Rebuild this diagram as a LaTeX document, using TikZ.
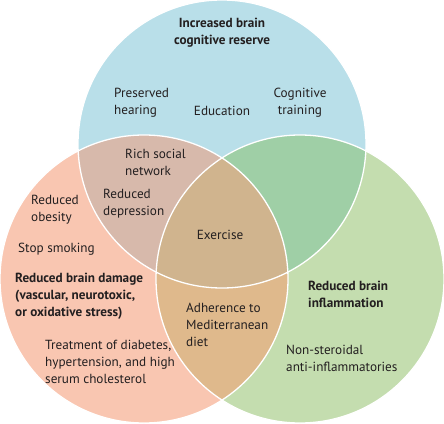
\documentclass[tikz,border=0pt]{standalone}
\usepackage{fontspec}
\setmainfont{PT Sans}
\definecolor{cblue}{HTML}{B9DFE9}
\definecolor{corange}{HTML}{F9C6B1}
\definecolor{cgreen}{HTML}{C4DDAF}
\definecolor{cbo}{HTML}{D7B9AB}
\definecolor{cbg}{HTML}{9FCFA6}
\definecolor{cog}{HTML}{DFB98C}
\definecolor{call}{HTML}{D0B48E}
\definecolor{ctext}{HTML}{231F20}
\begin{document}
\begin{tikzpicture}[x=1pt,y=-1pt,
  lbl/.style={inner sep=0pt,align=left,text=ctext,font=\fontsize{13.2}{17}\selectfont},
  lblc/.style={lbl,align=center},
  ttl/.style={lbl,font=\fontsize{13.2}{17}\selectfont\bfseries},
  ttlc/.style={ttl,align=center}]
\useasboundingbox (0,0) rectangle (444,423);
\coordinate (B) at (222,144);
\coordinate (O) at (144,279);
\coordinate (G) at (300,279);
\def\R{144pt}
% base fills
\fill[cblue] (B) circle[radius=\R];
\fill[corange] (O) circle[radius=\R];
\fill[cgreen] (G) circle[radius=\R];
% pairwise
\begin{scope}
  \clip (B) circle[radius=\R];
  \fill[cbo] (O) circle[radius=\R];
  \fill[cbg] (G) circle[radius=\R];
\end{scope}
\begin{scope}
  \clip (O) circle[radius=\R];
  \fill[cog] (G) circle[radius=\R];
  \clip (G) circle[radius=\R];
  \fill[call] (B) circle[radius=\R];
\end{scope}
% white outlines
\draw[white,line width=1.3pt] (B) circle[radius=\R];
\draw[white,line width=1.3pt] (O) circle[radius=\R];
\draw[white,line width=1.3pt] (G) circle[radius=\R];
% labels
\node[ttlc] (t1) at (222,32.5) {Increased brain\\cognitive reserve};
\node[lbl,anchor=west] (ph) at (114,102.5) {Preserved\\hearing};
\node[lblc] (ed) at (222,111) {Education};
\node[lblc] (ct) at (300,102.5) {Cognitive\\training};
\node[lbl,anchor=west] (rs) at (125,162.5) {Rich social\\network};
\node[lbl,anchor=west] (rd) at (103,203.5) {Reduced\\depression};
\node[lblc] (ex) at (220,235) {Exercise};
\node[lbl,anchor=west] (ro) at (31,209.5) {Reduced\\obesity};
\node[lbl,anchor=west] (ss) at (18,249) {Stop smoking};
\node[ttl,anchor=west] (t2) at (15,296.5) {Reduced brain damage\\(vascular, neurotoxic,\\or oxidative stress)};
\node[lbl,anchor=west] (tr) at (45,362) {Treatment of diabetes,\\hypertension, and high\\serum cholesterol};
\node[lbl,anchor=west] (md) at (186,325) {Adherence to\\Mediterranean\\diet};
\node[ttl,anchor=west] (t3) at (308,294) {Reduced brain\\inflammation};
\node[lbl,anchor=west] (ns) at (286,358.5) {Non-steroidal\\anti-inflammatories};
\end{tikzpicture}
\end{document}
